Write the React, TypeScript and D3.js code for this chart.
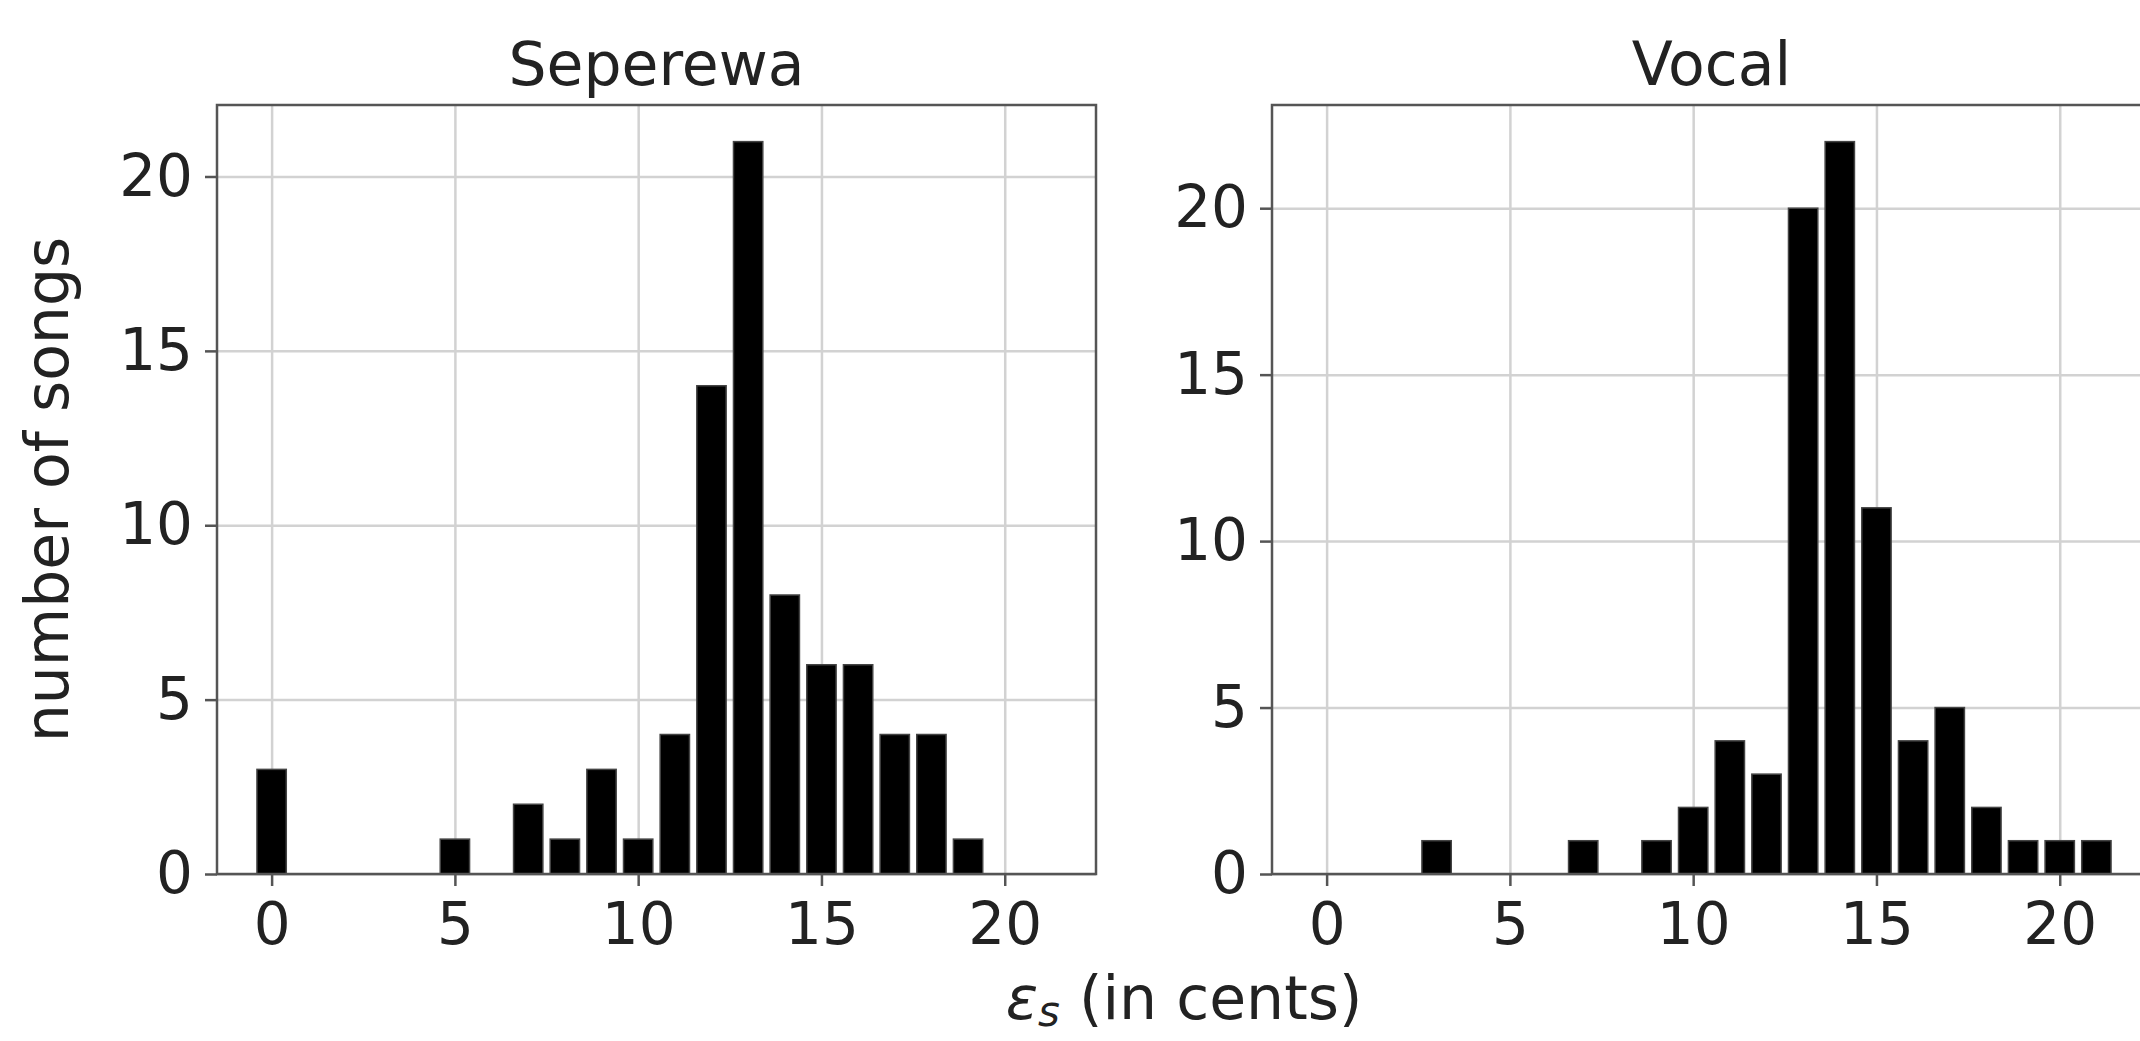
import React, { useEffect, useRef } from 'react';
import * as d3 from 'd3';

// histogram of epsilon_s per song
const seperewaBins = [0, 5, 7, 8, 9, 10, 11, 12, 13, 14, 15, 16, 17, 18, 19];
const seperewaCounts = [3, 1, 2, 1, 3, 1, 4, 14, 21, 8, 6, 6, 4, 4, 1];
const vocalBins = [3, 7, 9, 10, 11, 12, 13, 14, 15, 16, 17, 18, 19, 20, 21];
const vocalCounts = [1, 1, 1, 2, 4, 3, 20, 22, 11, 4, 5, 2, 1, 1, 1];
const xTicks = [0, 5, 10, 15, 20];
const yTicks = [0, 5, 10, 15, 20];
const panelTitles = ['Seperewa', 'Vocal'];

const App = () => {
  const chart = useRef<SVGSVGElement>(null);

  useEffect(() => {
    const width = 2140;
    const height = 1041;
    const plotW = 879;
    const plotH = 769;
    const top = 105;
    const lefts = [217, 1272];
    const barWidth = 0.8;
    const font = 'DejaVu Sans, sans-serif';
    const ink = '#222';
    const spine = '#555';

    const svg = d3.select(chart.current);
    svg.selectAll('*').remove();
    svg.attr('width', width).attr('height', height);
    svg.append('rect').attr('width', width).attr('height', height).attr('fill', '#fff');

    const panels = [
      { title: panelTitles[0], bins: seperewaBins, counts: seperewaCounts },
      { title: panelTitles[1], bins: vocalBins, counts: vocalCounts },
    ];

    // shared x axis, matplotlib style 5% margins
    const allBins = seperewaBins.concat(vocalBins);
    const lo = (d3.min(allBins) as number) - barWidth / 2;
    const hi = (d3.max(allBins) as number) + barWidth / 2;
    const m = (hi - lo) * 0.05;
    const x = d3.scaleLinear().domain([lo - m, hi + m]).range([0, plotW]);

    panels.forEach((p, i) => {
      const g = svg.append('g').attr('transform', `translate(${lefts[i]},${top})`);
      const y = d3
        .scaleLinear()
        .domain([0, (d3.max(p.counts) as number) * 1.05])
        .range([plotH, 0]);

      // grid
      const gx = g
        .append('g')
        .attr('transform', `translate(0,${plotH})`)
        .call(d3.axisBottom(x).tickValues(xTicks).tickSize(-plotH).tickFormat(() => ''));
      const gy = g
        .append('g')
        .call(d3.axisLeft(y).tickValues(yTicks).tickSize(-plotW).tickFormat(() => ''));
      [gx, gy].forEach((a) => {
        a.select('.domain').remove();
        a.selectAll('line').attr('stroke', '#d2d2d2').attr('stroke-width', 2.5);
      });

      // bars
      g.selectAll('rect.bar')
        .data(p.bins)
        .join('rect')
        .attr('class', 'bar')
        .attr('x', (d) => x(d - barWidth / 2))
        .attr('width', x(barWidth) - x(0))
        .attr('y', (d, j) => y(p.counts[j]))
        .attr('height', (d, j) => plotH - y(p.counts[j]))
        .attr('fill', '#000')
        .attr('stroke', '#444')
        .attr('stroke-width', 1.5);

      // frame
      g.append('rect')
        .attr('width', plotW)
        .attr('height', plotH)
        .attr('fill', 'none')
        .attr('stroke', spine)
        .attr('stroke-width', 2.5);

      // axes
      const ax = g
        .append('g')
        .attr('transform', `translate(0,${plotH})`)
        .call(d3.axisBottom(x).tickValues(xTicks).tickSize(12).tickPadding(17));
      const ay = g.append('g').call(d3.axisLeft(y).tickValues(yTicks).tickSize(12).tickPadding(12));
      [ax, ay].forEach((a) => {
        a.select('.domain').remove();
        a.selectAll('line').attr('stroke', spine).attr('stroke-width', 2.5);
        a.selectAll('text')
          .attr('fill', ink)
          .style('font-family', font)
          .style('font-size', '58px');
      });

      g.append('text')
        .attr('x', plotW / 2)
        .attr('y', -20)
        .attr('text-anchor', 'middle')
        .attr('fill', ink)
        .style('font-family', font)
        .style('font-size', '60px')
        .text(p.title);
    });

    svg
      .append('text')
      .attr('transform', `translate(68,${top + plotH / 2}) rotate(-90)`)
      .attr('text-anchor', 'middle')
      .attr('fill', ink)
      .style('font-family', font)
      .style('font-size', '60px')
      .text('number of songs');

    const xl = svg
      .append('text')
      .attr('x', (lefts[0] + lefts[1] + plotW) / 2)
      .attr('y', 1019)
      .attr('text-anchor', 'middle')
      .attr('fill', ink)
      .style('font-family', font)
      .style('font-size', '60px');
    xl.append('tspan').style('font-style', 'italic').text('ε');
    xl.append('tspan')
      .style('font-style', 'italic')
      .style('font-size', '42px')
      .attr('dy', 7)
      .text('s');
    xl.append('tspan').attr('dy', -7).text(' (in cents)');
  }, []);

  return (
    <div style={{ position: 'absolute', left: 0, top: 0 }}>
      <svg ref={chart} style={{ display: 'block' }}></svg>
    </div>
  );
};

export default App;
